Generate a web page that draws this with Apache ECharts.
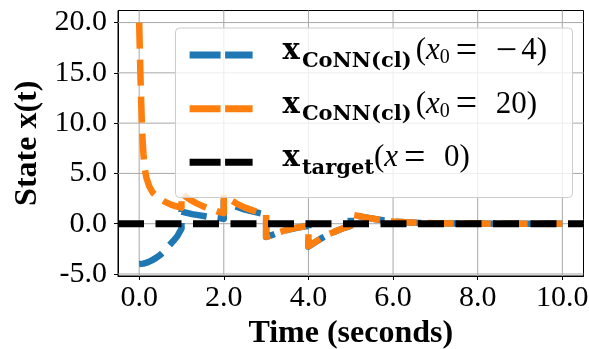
<!DOCTYPE html>
<html>
<head>
<meta charset="utf-8">
<script src="https://cdn.jsdelivr.net/npm/echarts@6.0.0/dist/echarts.min.js"></script>
<style>
html,body{margin:0;padding:0;background:#fff;overflow:hidden;}
#chart{width:589px;height:349px;}
</style>
</head>
<body>
<div id="chart"></div>
<script>
// ---- data ----
var tOrange = [0, 0.02, 0.04, 0.06, 0.08, 0.10, 0.13, 0.17, 0.24, 0.32, 0.45, 0.6, 0.75, 0.9, 1.0,
  1.0, 1.1, 1.2, 1.35, 1.5, 1.65, 1.8, 1.9, 2.0,
  2.0, 2.15, 2.3, 2.5, 2.7, 2.85, 3.0,
  3.0, 3.15, 3.3, 3.5, 3.7, 3.85, 4.0,
  4.0, 4.15, 4.3, 4.5, 4.7, 4.85, 5.0,
  5.0, 5.15, 5.35, 5.6, 5.85, 6.0, 6.3, 6.65, 7.0, 7.5, 8.0, 9.0, 10.0];
var xOrange = [20, 16.5, 13.2, 10.5, 8.4, 7.0, 5.5, 4.6, 3.7, 3.1, 2.6, 2.2, 1.9, 1.7, 1.6,
  3.05, 2.7, 2.4, 2.05, 1.75, 1.5, 1.3, 1.15, 1.05,
  2.9, 2.4, 2.0, 1.6, 1.3, 1.1, 0.95,
  -1.3, -1.1, -0.85, -0.6, -0.42, -0.3, -0.22,
  -2.25, -1.85, -1.45, -1.0, -0.65, -0.4, -0.2,
  0.9, 0.8, 0.62, 0.45, 0.3, 0.22, 0.14, 0.08, 0.04, 0.02, 0.01, 0.0, 0.0];

var tBlue = [0, 0.1, 0.2, 0.3, 0.4, 0.5, 0.6, 0.7, 0.8, 0.9, 1.0,
  1.0, 1.1, 1.25, 1.4, 1.6, 1.8, 2.0,
  2.0, 2.15, 2.3, 2.5, 2.7, 2.85, 3.0,
  3.0, 3.15, 3.3, 3.5, 3.7, 3.85, 4.0,
  4.0, 4.15, 4.3, 4.5, 4.7, 4.85, 5.0,
  5.0, 5.15, 5.35, 5.6, 5.85, 6.0, 6.3, 6.65, 7.0, 7.5, 8.0, 9.0, 10.0];
var xBlue = [-4.0, -3.97, -3.85, -3.65, -3.4, -3.1, -2.7, -2.2, -1.75, -1.25, -0.5,
  1.2, 1.1, 0.95, 0.85, 0.72, 0.6, 0.5,
  2.25, 1.95, 1.7, 1.4, 1.2, 1.05, 0.92,
  -1.32, -1.12, -0.87, -0.62, -0.43, -0.31, -0.23,
  -2.28, -1.87, -1.47, -1.02, -0.66, -0.41, -0.21,
  0.88, 0.79, 0.61, 0.44, 0.3, 0.22, 0.14, 0.08, 0.04, 0.02, 0.01, 0.0, 0.0];

var tTarget = [-0.5, 10.5];
var xTarget = [0, 0];

var xTicks = [0, 2, 4, 6, 8, 10];
var yTicks = [-5, 0, 5, 10, 15, 20];
var xRange = [-0.5, 10.5];
var yRange = [-5.2, 21.2];

var seriesNames = ['blue', 'orange', 'target'];
var legendLabels = {
  blue: '{sp|}{bx|x}{gb|}{bs|CoNN(cl)}{g0|}{n|(}{i|x}{s|0}{g1|}{op|=}{g2|}{op|\u2212}{g3|}{n|4)}',
  orange: '{sp|}{bx|x}{gb|}{bs|CoNN(cl)}{g0|}{n|(}{i|x}{s|0}{g1|}{op|=}{g2|}{n|20)}',
  target: '{sp|}{bx|x}{gb|}{bs|target}{n|(}{i|x}{g1|}{op|=}{g2|}{n|0)}'
};

function pairs(t, v) { return t.map(function (x, i) { return [x, v[i]]; }); }

var SERIF = '"Liberation Serif", "Times New Roman", serif';
var SERIFB = '"DejaVu Serif", serif';
var LH = 48;

var chart = echarts.init(document.getElementById('chart'), null, {renderer: 'canvas'});
var dashIcon = 'path://M0,0H31V7H0Z M35.5,0H63V7H35.5Z';

function tok(extra) {
  var o = {lineHeight: LH, verticalAlign: 'top', color: '#000'};
  for (var k in extra) o[k] = extra[k];
  return o;
}

var GRIDC = '#a8a8a8';
var gridSeries = xTicks.map(function (v) {
  return {type: 'line', silent: true, z: 1, symbol: 'none', data: [[v, yRange[0]], [v, yRange[1]]],
    lineStyle: {color: GRIDC, width: 1}};
}).concat(yTicks.map(function (v) {
  return {type: 'line', silent: true, z: 1, symbol: 'none', data: [[xRange[0], v], [xRange[1], v]],
    lineStyle: {color: GRIDC, width: 1}};
}));

chart.setOption({
  animation: false,
  backgroundColor: '#fff',
  grid: {
    left: 118, right: 5.5, top: 10.5, bottom: 73,
    containLabel: false, outerBoundsMode: 'none',
    show: true, borderColor: '#000', borderWidth: 1, backgroundColor: 'transparent'
  },
  xAxis: {
    type: 'value', min: xRange[0], max: xRange[1],
    name: 'Time (seconds)', nameLocation: 'middle', nameGap: 39,
    nameTextStyle: {fontFamily: SERIF, fontWeight: 'bold', fontSize: 32, color: '#000'},
    axisLine: {show: true, onZero: false, lineStyle: {color: '#000', width: 1}},
    axisTick: {show: true, customValues: xTicks, length: 4, lineStyle: {color: '#000', width: 1}},
    axisLabel: {show: true, customValues: xTicks, margin: 7, fontFamily: SERIF, fontSize: 30, color: '#000',
      formatter: function (v) { return v.toFixed(1); }},
    splitLine: {show: false}
  },
  yAxis: {
    type: 'value', min: yRange[0], max: yRange[1],
    name: 'State x(t)', nameLocation: 'middle', nameGap: 66,
    nameTextStyle: {fontFamily: SERIF, fontWeight: 'bold', fontSize: 32, color: '#000'},
    axisLine: {show: true, onZero: false, lineStyle: {color: '#000', width: 1}},
    axisTick: {show: true, customValues: yTicks, length: 4, lineStyle: {color: '#000', width: 1}},
    axisLabel: {show: true, customValues: yTicks, margin: 11, fontFamily: SERIF, fontSize: 30, color: '#000',
      formatter: function (v) { return v.toFixed(1); }},
    splitLine: {show: false}
  },
  graphic: [{
    type: 'rect', left: 175, top: 27.5, z: 10,
    shape: {width: 397, height: 169.5, r: 4},
    style: {fill: 'rgba(255,255,255,0.8)', stroke: '#cccccc', lineWidth: 1}
  }],
  legend: {
    data: seriesNames,
    orient: 'vertical', left: 189.6, top: 31.1, padding: 0, itemGap: 12.9,
    itemWidth: 63, itemHeight: 7, icon: dashIcon, z: 20,
    itemStyle: {borderWidth: 0},
    formatter: function (name) { return legendLabels[name]; },
    textStyle: {
      color: '#000',
      rich: {
        sp: tok({width: 25, fontSize: 10, verticalAlign: 'middle'}),
        bx: tok({fontFamily: SERIFB, fontWeight: 'bold', fontSize: 29, padding: [5.87, 0, 0, 0]}),
        gb: tok({width: 2, fontSize: 10}),
        bs: tok({fontFamily: SERIFB, fontWeight: 'bold', fontSize: 21, padding: [19.63, 0, 0, 0]}),
        g0: tok({width: 4, fontSize: 10}),
        n: tok({fontFamily: SERIF, fontSize: 31, padding: [4.44, 0, 0, 0]}),
        i: tok({fontFamily: SERIF, fontStyle: 'italic', fontSize: 31, padding: [4.44, 0, 0, 0]}),
        op: tok({fontFamily: SERIF, fontSize: 38, padding: [1.6, 0, 0, 0]}),
        s: tok({fontFamily: SERIF, fontSize: 20, padding: [16.65, 0, 0, 0]}),
        g1: tok({width: 6, fontSize: 10}),
        g2: tok({width: 18.6, fontSize: 10}),
        g3: tok({width: 4, fontSize: 10})
      }
    }
  },
  series: gridSeries.concat([
    {
      name: 'blue', type: 'line', color: '#1f77b4', data: pairs(tBlue, xBlue),
      symbol: 'none', showSymbol: false, z: 2,
      lineStyle: {color: '#1f77b4', width: 6.5, type: [26, 11], cap: 'butt', join: 'round'}
    },
    {
      name: 'orange', type: 'line', color: '#ff7f0e', data: pairs(tOrange, xOrange),
      symbol: 'none', showSymbol: false, z: 3,
      lineStyle: {color: '#ff7f0e', width: 6.5, type: [26, 11], cap: 'butt', join: 'round'}
    },
    {
      name: 'target', type: 'line', color: '#000000', data: pairs(tTarget, xTarget),
      symbol: 'none', showSymbol: false, z: 4,
      lineStyle: {color: '#000000', width: 7, type: [26, 11.5], cap: 'butt', join: 'round'}
    }
  ])
});
</script>
</body>
</html>
